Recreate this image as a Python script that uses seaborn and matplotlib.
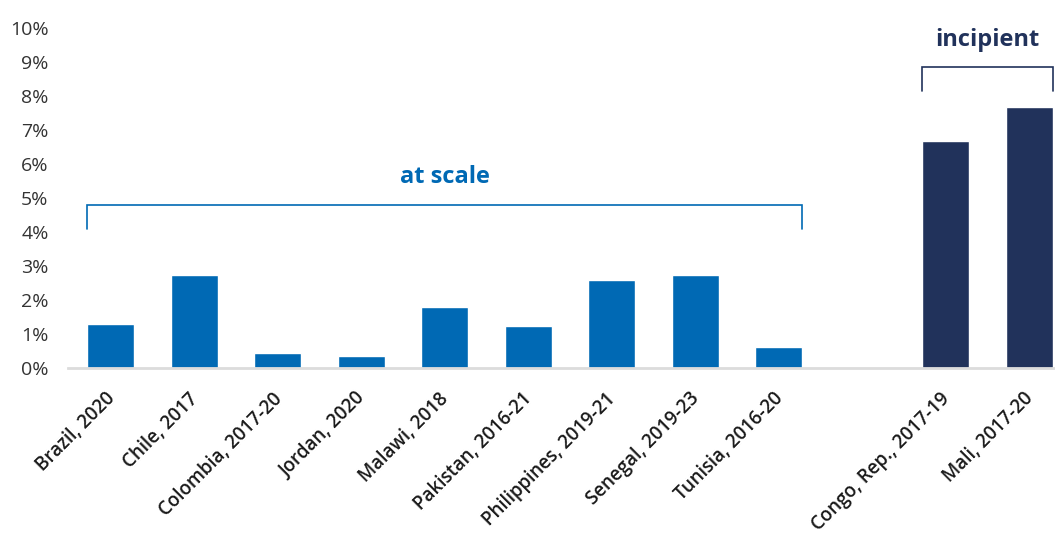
import matplotlib
matplotlib.use("Agg")
import matplotlib.pyplot as plt
import matplotlib.transforms as mtransforms
import seaborn as sns
import pandas as pd

# ---- data ----
at_scale_labels = ["Brazil, 2020", "Chile, 2017", "Colombia, 2017-20", "Jordan, 2020",
                   "Malawi, 2018", "Pakistan, 2016-21", "Philippines, 2019-21",
                   "Senegal, 2019-23", "Tunisia, 2016-20"]
at_scale_values = [1.3, 2.75, 0.45, 0.35, 1.8, 1.25, 2.6, 2.75, 0.62]
incipient_labels = ["Congo, Rep., 2017-19", "Mali, 2017-20"]
incipient_values = [6.68, 7.68]
group_names = ["at scale", "incipient"]
y_ticks = [0, 1, 2, 3, 4, 5, 6, 7, 8, 9, 10]

BLUE = "#0069B4"
NAVY = "#21325B"

sns.set_theme(style="white")
plt.rcParams["font.family"] = ["Open Sans", "DejaVu Sans"]

df = pd.DataFrame({
    "label": at_scale_labels + incipient_labels,
    "value": at_scale_values + incipient_values,
    "group": [group_names[0]] * len(at_scale_labels) + [group_names[1]] * len(incipient_labels),
})
spacer = " "
order = at_scale_labels + [spacer] + incipient_labels

fig = plt.figure(figsize=(10.55, 5.46), dpi=100)
ax = fig.add_axes([68 / 1055, (546 - 368) / 546, 1 - 68 / 1055, (368 - 28) / 546])

bw = 0.563
sns.barplot(data=df, x="label", y="value", hue="group", order=order,
            palette={group_names[0]: BLUE, group_names[1]: NAVY},
            dodge=False, width=bw, saturation=1, legend=False, ax=ax)

ax.set_xlim(-0.515, 11.31)
ax.set_ylim(0, 10)
ax.set_yticks(y_ticks)
ax.set_yticklabels([f"{v}%" for v in y_ticks], fontsize=14, color="#333333")
ax.tick_params(axis="y", length=0, pad=14)
ax.tick_params(axis="x", length=0, pad=15)

tick_pos = [order.index(l) for l in at_scale_labels + incipient_labels]
ax.set_xticks(tick_pos)
ax.set_xticklabels(at_scale_labels + incipient_labels, rotation=45, ha="right",
                   rotation_mode="anchor", fontsize=13.5, fontweight="semibold",
                   color="#1a1a1a")
offset = mtransforms.ScaledTranslation(-6 / 100, 0, fig.dpi_scale_trans)
for lbl in ax.get_xticklabels():
    lbl.set_transform(lbl.get_transform() + offset)
ax.set_xlabel("")
ax.set_ylabel("")

for s in ["top", "right", "left"]:
    ax.spines[s].set_visible(False)
ax.spines["bottom"].set_color("#DCDCDC")
ax.spines["bottom"].set_linewidth(2)

# brackets
def bracket(first, last, y_top, y_bot, ytext, text, color):
    x0 = order.index(first) - bw / 2
    x1 = order.index(last) + bw / 2
    ax.plot([x0, x0, x1, x1], [y_bot, y_top, y_top, y_bot], color=color, lw=1.2,
            solid_joinstyle="miter", clip_on=False)
    ax.text((x0 + x1) / 2, ytext, text, ha="center", va="center", color=color,
            fontsize=17, fontweight="bold")

bracket(at_scale_labels[0], at_scale_labels[-1], 4.79, 4.09, 5.62, group_names[0], BLUE)
bracket(incipient_labels[0], incipient_labels[-1], 8.85, 8.15, 9.65, group_names[1], NAVY)

fig.savefig("out.png", dpi=100)
